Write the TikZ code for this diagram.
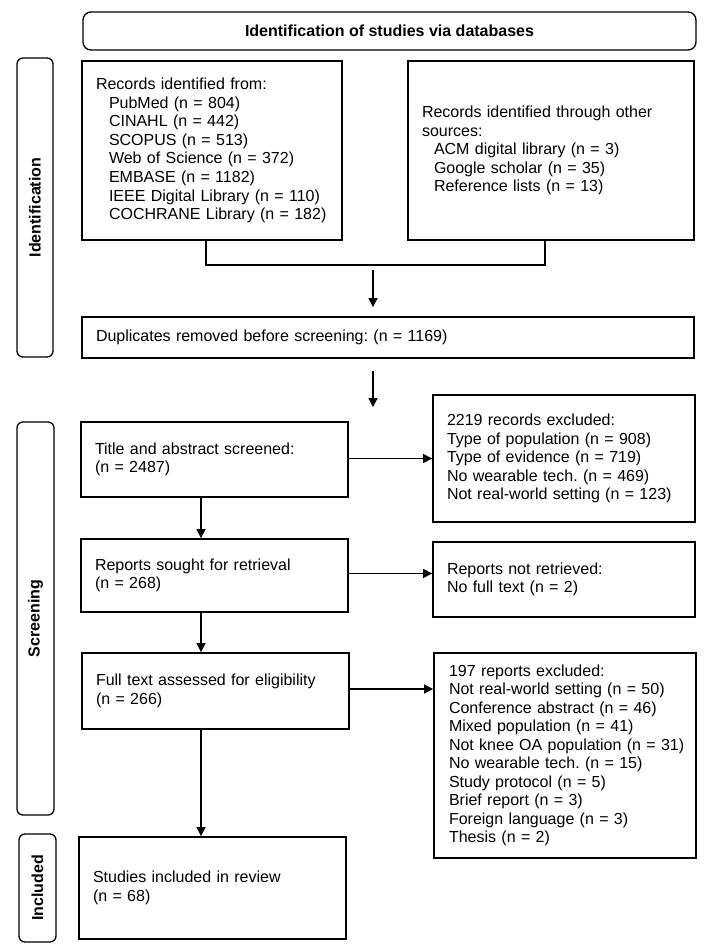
\documentclass[tikz,border=0pt]{standalone}
\usepackage{fontspec}
\setmainfont{Liberation Sans}
\usetikzlibrary{arrows.meta}
\begin{document}
\frenchspacing
\begin{tikzpicture}[x=1pt,y=-1pt,
  txt/.style={font=\frenchspacing\fontsize{16}{18.6}\selectfont},
  box/.style={draw, line width=1.8pt, txt, align=left, inner xsep=14pt, inner ysep=0pt, anchor=center},
  side/.style={draw, line width=1.3pt, rounded corners=6pt, rotate=90, font=\bfseries\fontsize{16}{18}\selectfont, inner sep=0pt, anchor=center},
  arr/.style={line width=1.1pt, -{Triangle[length=9pt,width=9pt]}},
  link/.style={line width=1.8pt}
]
\useasboundingbox (0,0) rectangle (710,952);
\fill[white] (0,0) rectangle (710,952);

% banner and phase labels
\node[draw, line width=1.3pt, rounded corners=8pt, minimum width=613pt, minimum height=38pt, inner sep=0pt, font=\bfseries\fontsize{16}{18}\selectfont] (ban) at (389.5,31) {Identification of studies via databases};
\node[side, minimum width=299pt, minimum height=36pt] (idl) at (35,207.5) {Identification};
\node[side, minimum width=393pt, minimum height=37pt] (scl) at (35.5,618.5) {Screening};
\node[side, minimum width=108pt, minimum height=37pt] (inl) at (37.5,888) {Included};

% boxes
\node[box, text width=232pt, minimum height=179pt] (rec) at (212,150.5) {Records identified from:\\
\hspace*{13pt}PubMed (n = 804)\\
\hspace*{13pt}CINAHL (n = 442)\\
\hspace*{13pt}SCOPUS (n = 513)\\
\hspace*{13pt}Web of Science (n = 372)\\
\hspace*{13pt}EMBASE (n = 1182)\\
\hspace*{13pt}IEEE Digital Library (n = 110)\\
\hspace*{13pt}COCHRANE Library (n = 182)};
\node[box, text width=258pt, minimum height=179pt] (oth) at (551,150.5) {Records identified through other\\
sources:\\
\hspace*{12pt}ACM digital library (n = 3)\\
\hspace*{12pt}Google scholar (n = 35)\\
\hspace*{12pt}Reference lists (n = 13)};
\node[box, text width=584pt, minimum height=41pt] (dup) at (388,337.5) {Duplicates removed before screening: (n = 1169)};
\node[box, text width=239pt, minimum height=75pt] (tit) at (214.5,459.5) {Title and abstract screened:\\(n = 2487)};
\node[box, text width=234pt, minimum height=127pt] (ex1) at (564,458.5) {2219 records excluded:\\
Type of population (n = 908)\\
Type of evidence (n = 719)\\
No wearable tech. (n = 469)\\
\mbox{Not real-world setting (n = 123)}};
\node[box, text width=239pt, minimum height=73pt] (rep) at (214.5,575.5) {Reports sought for retrieval\\(n = 268)};
\node[box, text width=234pt, minimum height=75pt] (nr) at (564,579.5) {Reports not retrieved:\\No full text (n = 2)};
\node[box, text width=239pt, minimum height=76pt] (ful) at (215.5,691) {Full text assessed for eligibility\\(n = 266)};
\node[box, text width=232pt, inner xsep=15pt, minimum height=205pt, font=\frenchspacing\fontsize{16}{18.5}\selectfont] (ex2) at (565,755.5) {197 reports excluded:\\
\mbox{Not real-world setting (n = 50)}\\
Conference abstract (n = 46)\\
Mixed population (n = 41)\\
\mbox{Not knee OA population (n = 31)}\\
No wearable tech. (n = 15)\\
Study protocol (n = 5)\\
Brief report (n = 3)\\
Foreign language (n = 3)\\
Thesis (n = 2)};
\node[box, text width=239pt, minimum height=102pt] (stu) at (212.5,888) {Studies included in review\\(n = 68)};

% helper coordinates
\coordinate (lx) at (206,0);
\coordinate (rx) at (545,0);
\coordinate (mx) at (373,265);
\coordinate (vx) at (201,0);

% merge of the two identification boxes
\draw[link] (rec.south -| lx) |- (mx) -| (oth.south -| rx);
\draw[arr, shorten <=5pt, shorten >=9pt] (mx) -- (dup.north -| mx);
\draw[arr, shorten <=12pt, shorten >=14pt] (dup.south -| mx) -- (tit.north -| mx);

% vertical flow
\draw[arr] (tit.south -| vx) -- (rep.north -| vx);
\draw[arr] (rep.south -| vx) -- (ful.north -| vx);
\draw[arr] (ful.south -| vx) -- (stu.north -| vx);

% exclusions
\draw[arr] (tit.east |- ex1.west) -- (ex1.west);
\draw[arr] ([yshift=2pt]rep.east) -- ([yshift=2pt]rep.east -| nr.west);
\draw[arr] ([yshift=2pt]ful.east) -- ([yshift=2pt]ful.east -| ex2.west);
\end{tikzpicture}
\end{document}
